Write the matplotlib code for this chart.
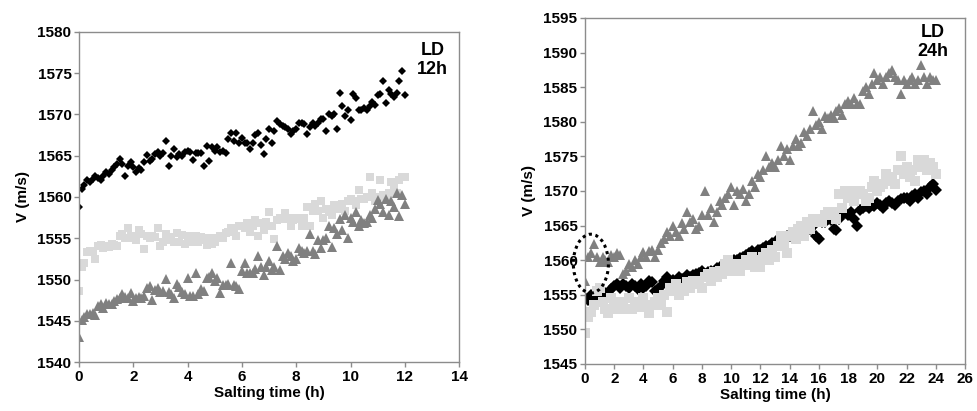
"""Ultrasonic velocity during salting, LD muscle, 12h and 24h"""
import numpy as np
import matplotlib.pyplot as plt
from matplotlib.patches import Ellipse

plt.rcParams['font.family'] = ['Liberation Sans', 'DejaVu Sans']
plt.rcParams['font.weight'] = 'bold'
plt.rcParams['axes.labelweight'] = 'bold'

STEP_12 = 0.1  # h between readings, 12 h run
STEP_24 = 0.2  # h between readings, 24 h run

# ---- LD 12h ----
black_12 = [
    1558.8, 1561.0, 1561.5, 1562.0, 1561.8, 1562.2, 1562.5, 1562.3, 1562.0, 1562.6,
    1563.0, 1562.8, 1563.3, 1563.6, 1564.0, 1564.6, 1564.0, 1562.5, 1563.8, 1564.3,
    1563.6, 1563.0, 1563.5, 1563.3, 1564.2, 1565.1, 1564.4, 1564.6, 1565.2, 1565.5,
    1565.0, 1565.3, 1566.8, 1563.8, 1565.0, 1565.8, 1564.9, 1565.2, 1565.0, 1565.5,
    1565.6, 1565.4, 1564.5, 1565.3, 1565.3, 1565.3, 1563.8, 1566.2, 1564.4, 1566.0,
    1565.6, 1566.0, 1565.5, 1565.6, 1565.3, 1567.0, 1567.8, 1566.8, 1567.8, 1566.5,
    1567.1, 1566.5, 1566.6, 1565.8, 1566.6, 1567.5, 1567.8, 1566.3, 1565.2, 1567.0,
    1568.3, 1566.5, 1568.0, 1569.2, 1568.8, 1568.6, 1568.5, 1568.3, 1567.6, 1568.0,
    1568.3, 1569.0, 1569.0, 1568.8, 1567.6, 1568.5, 1569.0, 1568.6, 1569.0, 1569.5,
    1569.5, 1568.0, 1570.0, 1569.8, 1570.1, 1568.3, 1572.6, 1571.0, 1569.8, 1570.5,
    1569.3, 1572.5, 1572.0, 1570.5, 1570.5, 1570.8, 1570.6, 1571.0, 1571.5, 1571.2,
    1572.4, 1572.5, 1574.0, 1571.4, 1573.0, 1572.5, 1572.1, 1572.6, 1574.0, 1575.3,
    1572.4,
]
light_12 = [
    1548.6, 1551.5, 1552.0, 1553.3, 1553.5, 1553.3, 1552.5, 1554.0, 1554.2, 1553.8,
    1554.0, 1553.9, 1554.3, 1554.2, 1554.0, 1555.3, 1555.5, 1555.0, 1556.3, 1555.3,
    1555.0, 1554.8, 1556.0, 1555.5, 1553.7, 1555.3, 1555.0, 1555.3, 1555.2, 1556.3,
    1554.0, 1554.5, 1555.5, 1554.8, 1555.2, 1554.6, 1555.6, 1554.5, 1555.4, 1554.3,
    1555.3, 1555.0, 1554.5, 1555.3, 1554.5, 1555.2, 1554.8, 1554.2, 1555.0, 1554.3,
    1554.5, 1555.0, 1555.3, 1555.0, 1555.6, 1555.8, 1556.3, 1556.0, 1555.3, 1556.5,
    1556.5, 1556.3, 1556.8, 1555.8, 1556.5, 1557.2, 1555.3, 1556.8, 1556.0, 1557.0,
    1558.2, 1556.5, 1554.9, 1557.2, 1557.5, 1557.3, 1558.0, 1557.5, 1556.5, 1557.2,
    1557.5, 1557.3, 1556.5, 1557.5, 1558.8, 1556.5, 1558.3, 1559.1, 1558.3, 1559.5,
    1557.5, 1558.5, 1558.2, 1557.8, 1559.0, 1558.5, 1558.8, 1559.2, 1558.3, 1559.5,
    1559.7, 1559.5, 1559.0, 1560.8, 1559.8, 1559.8, 1560.0, 1562.4, 1560.5, 1559.5,
    1560.0, 1562.0, 1560.3, 1559.8, 1560.5, 1561.8, 1561.3, 1560.5, 1562.0, 1562.4,
    1562.4,
]
grey_12 = [
    1543.0, 1545.1, 1545.5, 1545.8, 1545.8, 1546.0, 1545.7, 1546.8, 1547.0, 1546.6,
    1547.2, 1547.0, 1547.0, 1547.4, 1547.6, 1547.8, 1548.2, 1547.9, 1547.8, 1548.4,
    1547.4, 1547.8, 1547.9, 1547.8, 1548.0, 1549.0, 1549.2, 1547.5, 1548.7, 1549.0,
    1548.5, 1548.6, 1550.1, 1548.5, 1548.3, 1547.8, 1549.4, 1549.1, 1548.5, 1548.3,
    1550.2, 1548.0, 1548.0, 1550.8, 1548.2, 1548.9, 1548.6, 1550.2, 1550.3, 1550.8,
    1549.8, 1550.2, 1548.4, 1549.3, 1549.3, 1549.4, 1552.0, 1549.3, 1549.2, 1548.9,
    1551.0, 1552.0, 1550.8, 1550.8, 1550.8, 1551.3, 1552.8, 1551.5, 1550.5, 1551.5,
    1552.2, 1551.2, 1551.5, 1554.0, 1551.2, 1552.8, 1552.5, 1553.2, 1552.8, 1552.2,
    1552.5, 1553.8, 1553.5, 1553.2, 1553.5, 1555.5, 1553.5, 1553.1, 1554.8, 1553.8,
    1554.8, 1555.0, 1556.5, 1553.9, 1556.3, 1555.5, 1557.3, 1556.0, 1557.8, 1555.0,
    1557.5, 1557.0, 1558.2, 1556.5, 1557.2, 1556.8, 1557.0, 1557.8, 1557.5, 1558.5,
    1559.6, 1559.2, 1558.2, 1559.8, 1557.8, 1559.5, 1558.8, 1560.5, 1557.7, 1560.2,
    1559.2,
]

# ---- LD 24h ----
black_24 = [
    1554.5, 1554.2, 1555.0, 1554.5, 1555.0, 1555.2, 1555.0, 1555.3, 1555.2, 1555.8,
    1556.3, 1556.5, 1556.0, 1556.5, 1556.3, 1556.0, 1556.5, 1556.3, 1555.8, 1556.5,
    1556.0, 1556.2, 1557.0, 1556.8, 1555.5, 1555.8, 1556.3, 1557.0, 1557.5, 1557.0,
    1557.2, 1556.8, 1557.5, 1557.3, 1556.5, 1557.8, 1557.5, 1557.8, 1558.0, 1558.2,
    1558.5, 1558.0, 1558.3, 1558.5, 1558.0, 1558.8, 1559.0, 1559.2, 1559.5, 1559.3,
    1559.8, 1560.0, 1560.0, 1560.3, 1560.5, 1560.8, 1561.0, 1561.3, 1560.8, 1561.5,
    1561.5, 1561.8, 1562.0, 1562.0, 1562.5, 1562.5, 1563.0, 1562.8, 1563.0, 1563.5,
    1563.5, 1563.8, 1564.0, 1564.3, 1564.0, 1564.5, 1564.8, 1564.5, 1565.0, 1563.5,
    1563.0, 1565.5, 1565.5, 1566.0, 1565.8, 1564.5, 1564.3, 1566.0, 1566.5, 1566.8,
    1566.5, 1567.0, 1566.0, 1565.0, 1567.3, 1567.5, 1567.8, 1567.5, 1568.0, 1567.8,
    1568.2, 1568.0, 1567.5, 1568.3, 1568.5, 1568.2, 1568.0, 1568.5, 1568.8, 1569.0,
    1569.0, 1568.5, 1569.3, 1569.5, 1569.0, 1569.8, 1570.0, 1569.5, 1570.5, 1571.0,
    1570.2,
]
light_24 = [
    1549.5, 1551.8, 1552.5, 1553.5, 1555.5, 1556.0, 1554.0, 1553.0, 1552.3, 1554.5,
    1553.5, 1553.0, 1554.0, 1553.5, 1553.0, 1554.5, 1553.0, 1553.5, 1554.0, 1553.2,
    1554.5, 1553.5, 1552.3, 1553.5, 1554.0, 1554.5, 1553.5, 1555.0, 1552.5, 1556.0,
    1555.5, 1556.5, 1555.0, 1556.0, 1555.5, 1556.8, 1556.0, 1557.0, 1556.5, 1557.0,
    1556.0, 1557.5, 1558.0, 1557.0, 1558.3, 1557.5, 1558.5, 1558.0, 1559.5, 1560.0,
    1558.5, 1559.0, 1559.5, 1558.5, 1559.5, 1560.0, 1559.3, 1560.5, 1559.0, 1560.0,
    1559.0, 1560.5, 1561.0, 1560.0, 1561.5, 1560.5, 1562.0, 1563.5, 1562.5, 1561.0,
    1563.5, 1564.0, 1563.0, 1564.5, 1565.0, 1563.5, 1565.5, 1564.5, 1566.0, 1565.5,
    1566.0, 1565.5, 1566.5, 1567.0, 1566.5, 1567.0, 1566.0, 1569.5, 1567.5, 1570.0,
    1569.0, 1570.0, 1568.5, 1569.5, 1570.0, 1569.5, 1568.5, 1569.0, 1570.5, 1571.5,
    1570.0, 1570.5, 1571.0, 1572.5, 1571.5, 1572.0, 1571.0, 1573.0, 1575.0, 1572.5,
    1573.5, 1572.0, 1573.0, 1571.5, 1574.5, 1573.5, 1574.5, 1573.0, 1574.0, 1573.5,
    1572.5,
]
grey_24 = [
    1557.0, 1560.5, 1561.0, 1562.3, 1560.5, 1559.8, 1560.5, 1560.0, 1559.8, 1560.8,
    1560.5, 1561.0, 1560.8, 1558.0, 1558.5, 1559.5, 1559.0, 1560.0, 1559.5, 1560.5,
    1561.2, 1560.5, 1561.3, 1561.5, 1560.5, 1561.5, 1562.5, 1563.0, 1564.0, 1563.5,
    1565.0, 1564.0, 1563.5, 1565.3, 1564.5, 1567.0, 1565.5, 1566.0, 1564.5, 1565.0,
    1566.5, 1570.0, 1566.5, 1567.5, 1565.5, 1567.0, 1568.5, 1568.0, 1569.0, 1569.5,
    1570.5, 1568.0, 1570.0, 1569.5, 1570.3, 1568.5, 1569.5, 1571.5, 1570.5, 1572.5,
    1572.0, 1573.0, 1575.0, 1573.5, 1574.0, 1573.5, 1574.5, 1576.5, 1575.0, 1576.0,
    1574.5, 1576.5, 1577.5, 1576.5, 1577.0, 1578.5, 1578.0, 1579.0, 1581.5, 1579.5,
    1580.0, 1579.0, 1580.8, 1580.5, 1581.0, 1580.5, 1581.5, 1582.0, 1581.0, 1582.5,
    1583.0, 1582.5, 1583.5, 1582.5, 1582.5, 1584.5, 1585.0, 1584.0, 1585.5, 1587.0,
    1586.0, 1586.5, 1585.5, 1586.5, 1587.0, 1587.5, 1586.5, 1586.0, 1584.0, 1586.0,
    1585.5, 1586.0, 1586.5, 1585.5, 1586.0, 1588.2, 1586.5, 1585.5, 1586.5, 1586.0,
    1586.0,
]

BLACK, LIGHT, GREY = "#000000", "#d9d9d9", "#808080"
SPINE = "#8c8c8c"


def style(ax, xmax, ylim, ystep):
    ax.set_xlim(0, xmax)
    ax.set_ylim(*ylim)
    ax.set_xticks(np.arange(0, xmax + 0.1, 2))
    ax.set_yticks(np.arange(ylim[0], ylim[1] + 0.1, ystep))
    for s in ax.spines.values():
        s.set_color(SPINE)
        s.set_linewidth(1.0)
    ax.tick_params(direction="out", length=3.5, width=1, color=SPINE,
                   labelsize=11, pad=2)
    ax.set_xlabel("Salting time (h)", fontsize=11, fontweight="bold", labelpad=2)
    ax.set_ylabel("V (m/s)", fontsize=11, fontweight="bold", labelpad=5)


fig = plt.figure(figsize=(9.77, 4.11), dpi=100)
ax1 = fig.add_axes([0.0809, 0.1192, 0.389, 0.803])
ax2 = fig.add_axes([0.5988, 0.1144, 0.389, 0.842])

t12 = np.arange(len(black_12)) * STEP_12
ax1.plot(t12, black_12, "D", color=BLACK, ms=4.5, mew=0)
ax1.plot(t12, light_12, "s", color=LIGHT, ms=6, mew=0)
ax1.plot(t12, grey_12, "^", color=GREY, ms=7, mew=0)
style(ax1, 14, (1540, 1580), 5)
ax1.text(0.93, 0.915, "LD\n12h", transform=ax1.transAxes, ha="center", va="center",
         fontsize=13, fontweight="bold", linespacing=1.1)

t24 = np.arange(len(black_24)) * STEP_24
ax2.plot(t24, black_24, "D", color=BLACK, ms=6, mew=0)
ax2.plot(t24, light_24, "s", color=LIGHT, ms=7, mew=0)
ax2.plot(t24, grey_24, "^", color=GREY, ms=7.5, mew=0)
style(ax2, 26, (1545, 1595), 5)
ax2.text(0.915, 0.93, "LD\n24h", transform=ax2.transAxes, ha="center", va="center",
         fontsize=13, fontweight="bold", linespacing=1.1)
ax2.add_patch(Ellipse((0.4, 1559.5), 2.4, 8.5, fill=False, ec="black",
                      ls=(0, (1, 1.2)), lw=2.2, clip_on=False, zorder=5))

fig.savefig("out.png", dpi=100)
